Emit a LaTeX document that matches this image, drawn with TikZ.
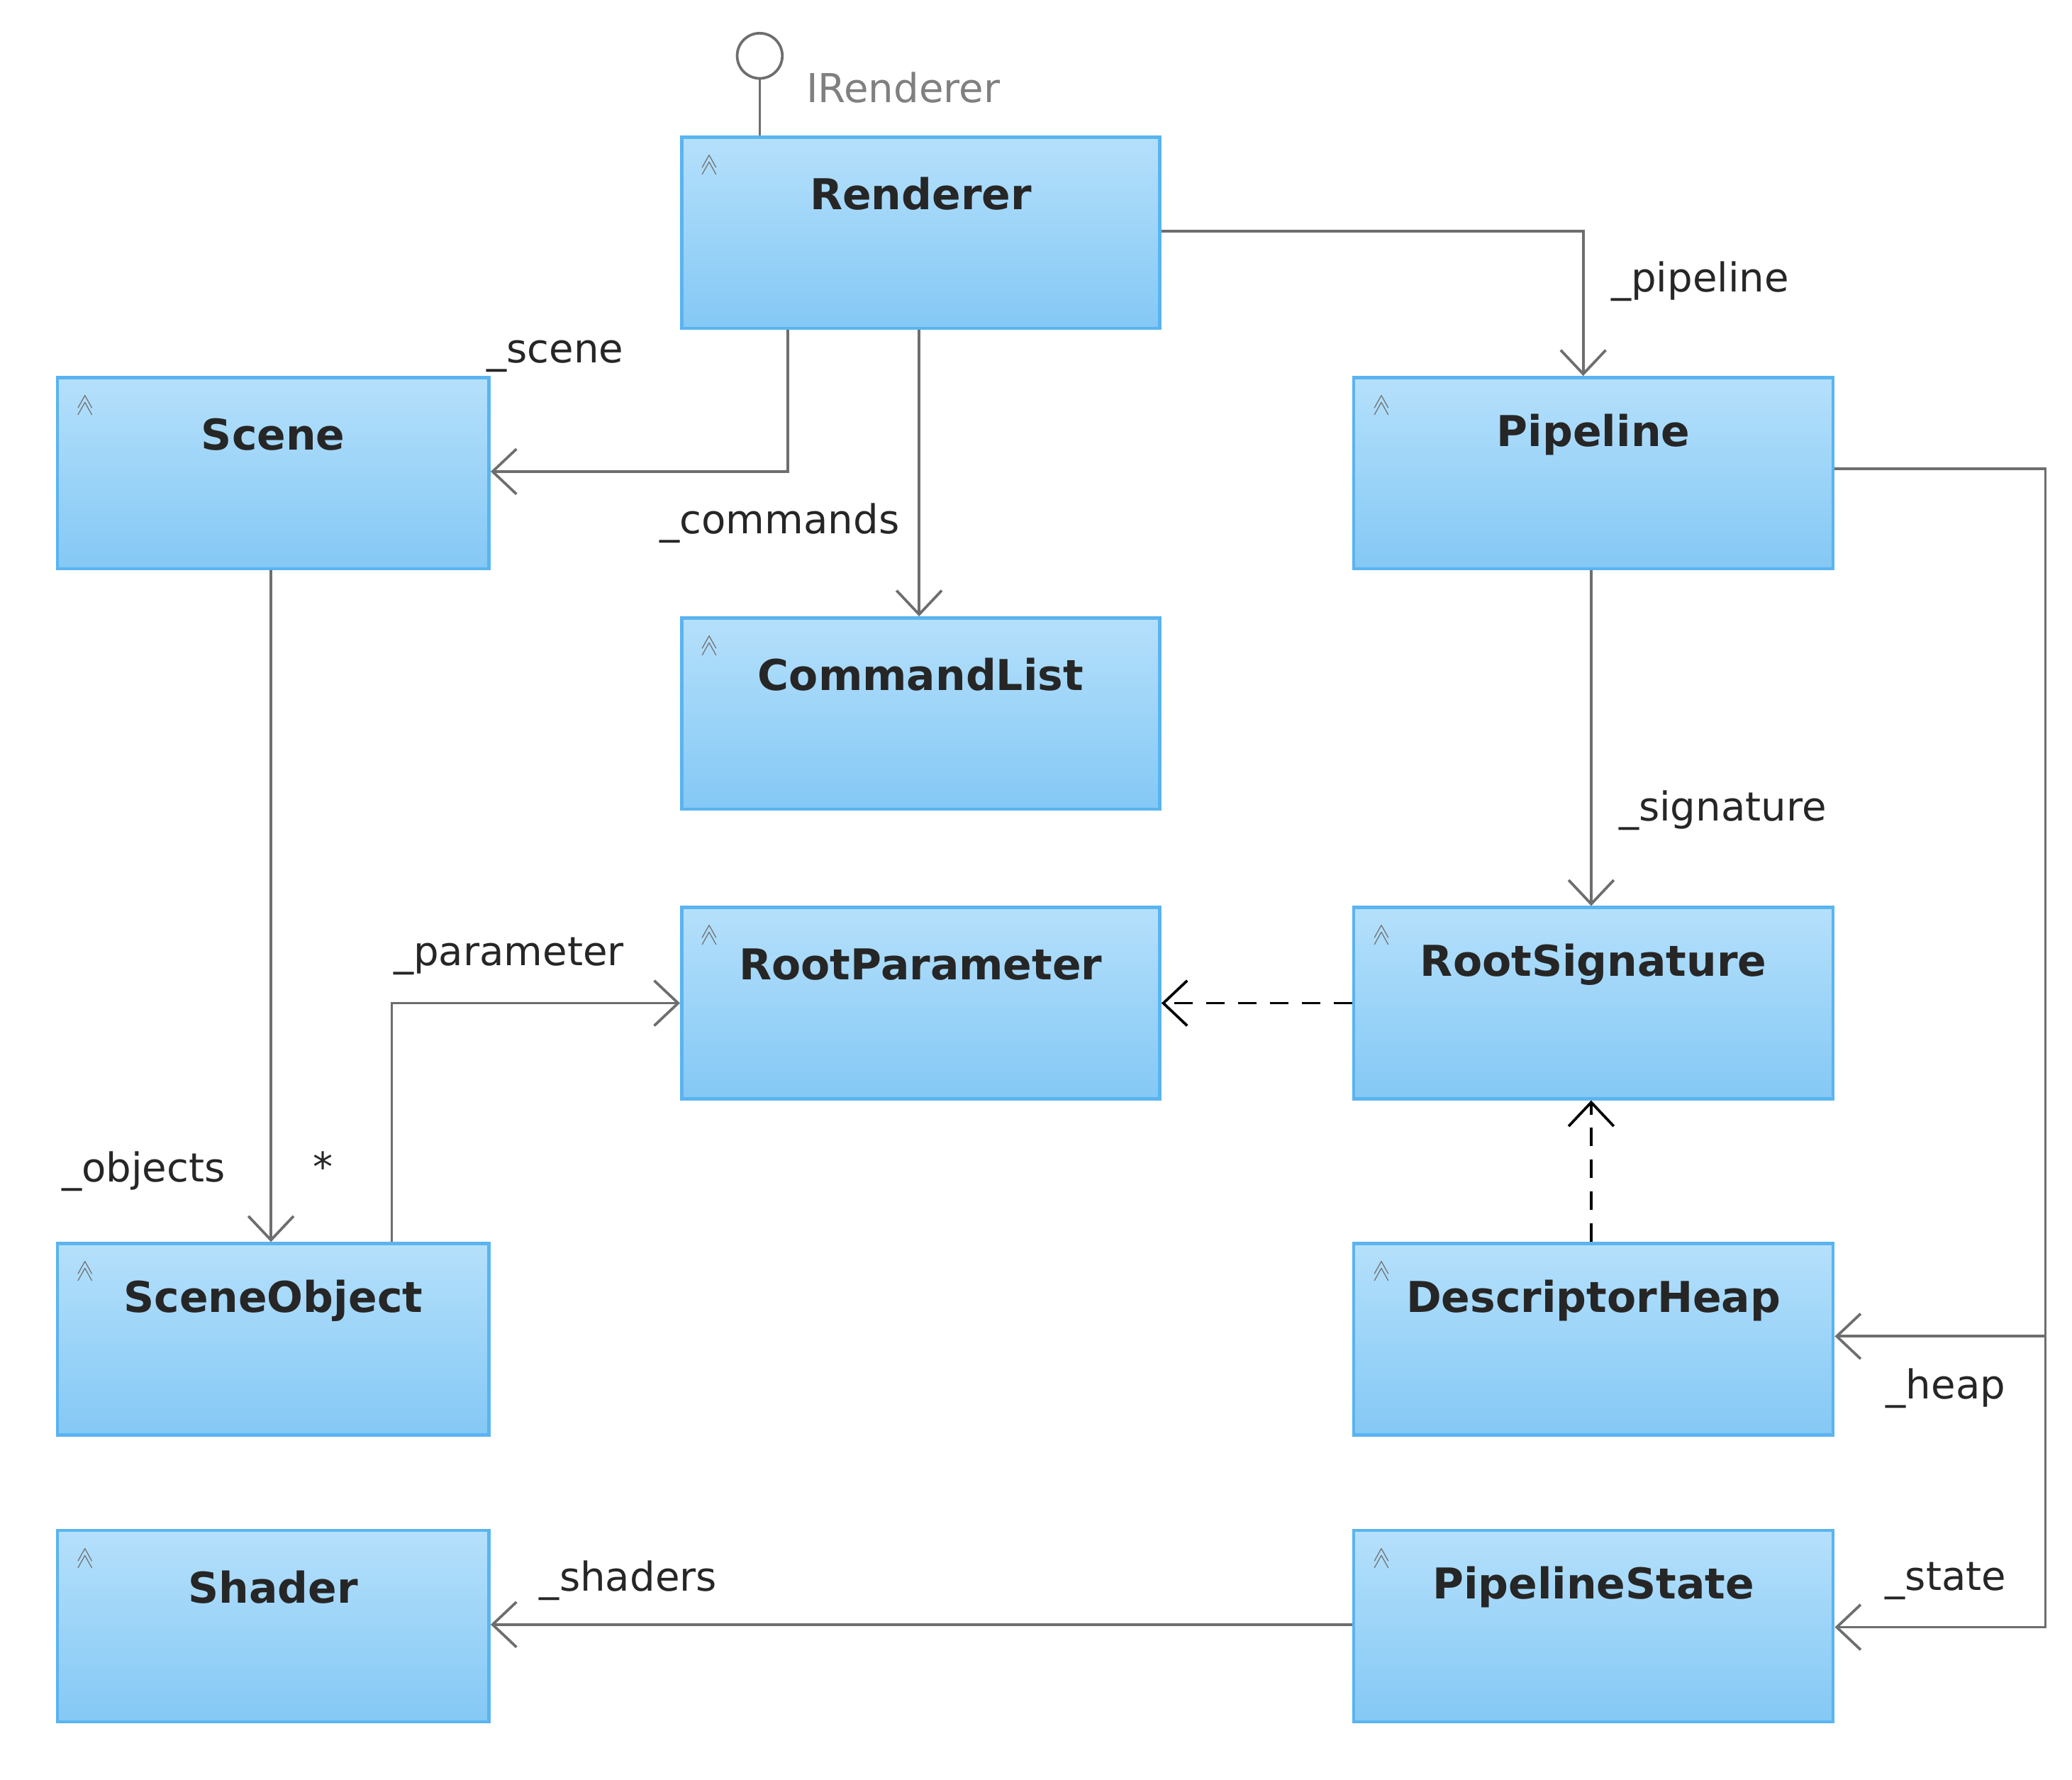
\documentclass[tikz,border=0pt]{standalone}
\usepackage{fontspec}
\setmainfont{DejaVu Sans}
\usetikzlibrary{arrows.meta}
\definecolor{boxtop}{HTML}{B5E0FB}
\definecolor{boxbot}{HTML}{84C8F5}
\definecolor{boxline}{HTML}{5AB4F0}
\definecolor{wire}{HTML}{6E6E6E}
\tikzset{
  cls/.style={draw=boxline, line width=1.2pt, top color=boxtop, bottom color=boxbot,
    anchor=north west, inner sep=0pt},
  clsname/.style={font=\bfseries\fontsize{16}{18}\selectfont, text=black!85},
  assoc/.style={draw=wire, line width=1pt, -{Straight Barb[length=9pt, width=17pt, line width=1pt]}},
  dep/.style={draw=black, line width=1pt, dash pattern=on 7pt off 5pt, -{Straight Barb[length=9pt, width=17pt, line width=1pt]}},
  role/.style={font=\fontsize{15}{17}\selectfont, text=black!85},
}
\newcommand{\umlclass}[5]{% name, x, y, w, label
  \node[cls, minimum width=#4*0.5pt, minimum height=72pt] (#1) at (#2,#3) {};
  \node[clsname] at ([yshift=-22pt]#1.north) {#5};
  \node[text=wire, font=\fontsize{8}{8}\selectfont, rotate=90] at ([xshift=11pt,yshift=-11pt]#1.north west) {$\gg$};
}
\begin{document}
\begin{tikzpicture}[x=0.5pt,y=-0.5pt]
\useasboundingbox (0,0) rectangle (1560,1340);
\umlclass{renderer}{512}{102}{360}{Renderer}
\umlclass{scene}{42}{283}{325}{Scene}
\umlclass{pipeline}{1018}{283}{361}{Pipeline}
\umlclass{cmdlist}{512}{464}{360}{CommandList}
\umlclass{rootparam}{512}{682}{360}{RootParameter}
\umlclass{rootsig}{1018}{682}{361}{RootSignature}
\umlclass{sceneobj}{42}{935}{325}{SceneObject}
\umlclass{heap}{1018}{935}{361}{DescriptorHeap}
\umlclass{shader}{42}{1151}{325}{Shader}
\umlclass{pstate}{1018}{1151}{361}{PipelineState}
% interface lollipop
\node[draw=wire, line width=1pt, circle, minimum size=17pt, inner sep=0pt] (iface) at (572,42) {};
\draw[wire, line width=1pt] (iface) -- (renderer.north -| iface);
\node[text=gray, font=\fontsize{15}{17}\selectfont] at (680,66) {IRenderer};
% associations
\draw[assoc] ([yshift=-36pt]renderer.north east) -| (pipeline.north -| 1192,0);
\node[role] at (1280,212) {\_pipeline};
\draw[assoc] (renderer.south -| 593,0) |- ([yshift=-36pt]scene.north east);
\node[role] at (418,268) {\_scene};
\draw[assoc] (renderer.south -| 692,0) -- (cmdlist.north -| 692,0);
\node[role] at (587,394) {\_commands};
\draw[assoc] (pipeline.south -| 1198,0) -- (rootsig.north -| 1198,0);
\node[role] at (1297,610) {\_signature};
\coordinate (bend) at (1540,1006);
\draw[assoc] ([yshift=-35pt]pipeline.north east) -| (bend) -- (heap.east |- bend);
\node[role] at (1465,1045) {\_heap};
\draw[assoc] (bend) |- ([yshift=-37pt]pstate.north east);
\node[role] at (1465,1190) {\_state};
\draw[assoc] (scene.south -| 204,0) -- (sceneobj.north -| 204,0);
\node[role] at (108,882) {\_objects};
\node[role] at (243,878) {*};
\draw[assoc] (sceneobj.north -| 295,0) |- (rootparam.west);
\node[role] at (383,720) {\_parameter};
\draw[assoc] (pstate.west |- 0,1223) -- (shader.east |- 0,1223);
\node[role] at (473,1190) {\_shaders};
% dependencies
\draw[dep] (rootsig.west) -- (rootparam.east);
\draw[dep] (heap.north -| 1198,0) -- (rootsig.south -| 1198,0);
\end{tikzpicture}
\end{document}
